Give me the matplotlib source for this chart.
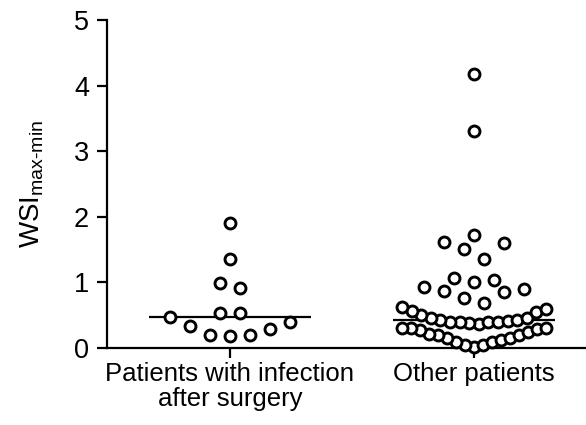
import numpy as np
import matplotlib
matplotlib.use('Agg')
import matplotlib.pyplot as plt

# dados
grupos = ['Patients with infection\nafter surgery', 'Other patients']

wsi_infeccao = [1.90, 1.36, 0.99, 0.91, 0.53, 0.53, 0.47, 0.40, 0.34, 0.29,
                0.20, 0.20, 0.18]

wsi_outros = [4.18, 3.31, 1.73, 1.62, 1.60, 1.51, 1.36, 1.07, 1.04, 1.00,
              0.93, 0.90, 0.87, 0.85, 0.76, 0.68, 0.62, 0.59, 0.56, 0.55,
              0.50, 0.46, 0.46, 0.43, 0.43, 0.42, 0.40, 0.40, 0.40, 0.39,
              0.38, 0.37, 0.30, 0.30, 0.30, 0.29, 0.27, 0.25, 0.22, 0.20,
              0.20, 0.15, 0.15, 0.12, 0.09, 0.09, 0.05, 0.05, 0.02]


def disposicao(valores, h=0.30, passo_max=0.082, largura_max=0.59):
    # agrupa os valores em linhas e espalha cada linha em volta do centro
    v = np.sort(np.array(valores))
    linhas = []
    i = 0
    while i < len(v):
        j = i
        while j < len(v) and v[j] < v[i] + h:
            j += 1
        linhas.append(v[i:j])
        i = j
    xs, ys = [], []
    for l in linhas:
        n = len(l)
        passo = min(passo_max, largura_max / (n - 1)) if n > 1 else passo_max
        offs = (np.arange(n) - (n - 1) / 2) * passo
        ordem = np.argsort(np.abs(offs) - 1e-6 * offs)
        for val, k in zip(l, ordem):
            xs.append(offs[k])
            ys.append(val)
    return np.array(xs), np.array(ys)


plt.rcParams['font.family'] = ['Liberation Sans', 'DejaVu Sans']
plt.rcParams['mathtext.fontset'] = 'custom'
plt.rcParams['mathtext.rm'] = 'Liberation Sans'
plt.rcParams['mathtext.it'] = 'Liberation Sans'

fig = plt.figure(figsize=(5.86, 4.25), dpi=100)
ax = fig.add_axes([0.1826, 0.181, 0.8174, 0.772])

for i, vals in enumerate([wsi_infeccao, wsi_outros]):
    dx, yy = disposicao(vals)
    ax.scatter(i + dx, yy, s=62, facecolor='white', edgecolor='black',
               linewidths=2.1, zorder=3, clip_on=False)
    # linha da mediana
    ax.hlines(np.median(vals), i - 0.33, i + 0.33, color='black', lw=1.6, zorder=2)

ax.set_xlim(-0.504, 1.459)
ax.set_ylim(0, 5)
ax.set_yticks([0, 1, 2, 3, 4, 5])
ax.set_xticks([0, 1])
ax.set_xticklabels(grupos, fontsize=18.5, linespacing=1.05)
ax.set_ylabel('WSI$_{\\mathregular{max\u2010min}}$', fontsize=20, labelpad=20)

for lado in ['top', 'right']:
    ax.spines[lado].set_visible(False)
for lado in ['left', 'bottom']:
    ax.spines[lado].set_linewidth(1.6)
ax.tick_params(axis='both', width=1.6, length=7)
ax.tick_params(axis='y', labelsize=19.5, pad=6)
ax.tick_params(axis='x', pad=3)

fig.savefig('out.png', dpi=100)
